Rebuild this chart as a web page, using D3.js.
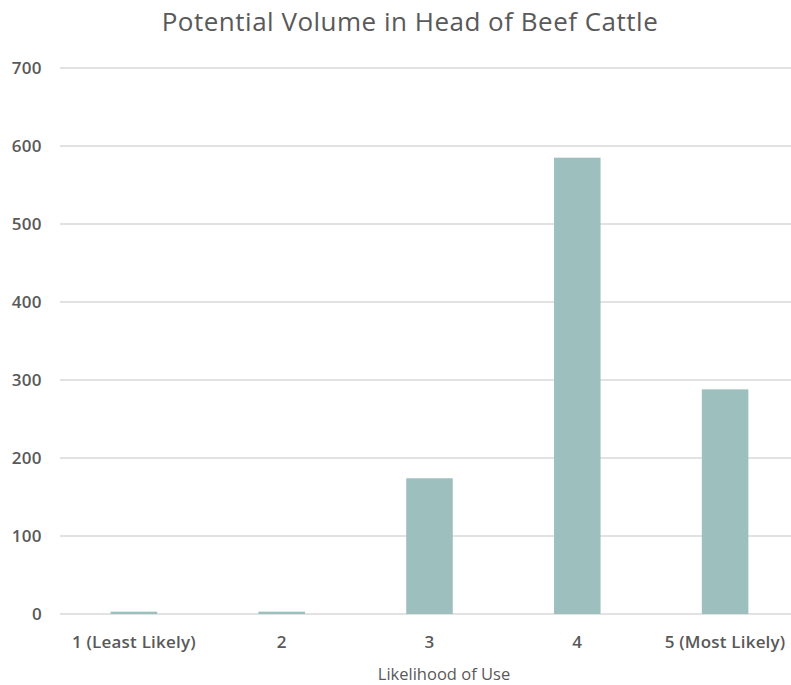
<!DOCTYPE html>
<html>
<head>
<meta charset="utf-8">
<script src="https://cdn.jsdelivr.net/npm/d3@7"></script>
<style>
  html, body { margin: 0; padding: 0; background: #fff; }
  svg { display: block; }
  text { font-family: "Open Sans", "Noto Sans", sans-serif; fill: #595959; }
</style>
</head>
<body>
<svg id="chart" width="791" height="685"></svg>
<script>
// Likelihood categories and head counts
const categories = ["1 (Least Likely)", "2", "3", "4", "5 (Most Likely)"];
const values = [3, 3, 174, 585, 288];
const yTicks = [0, 100, 200, 300, 400, 500, 600, 700];

const svg = d3.select("#chart");
const width = 791, height = 685;
const margin = { left: 60, right: -8, top: 68, bottom: 71 };

const x = d3.scaleBand()
  .domain(categories)
  .range([margin.left, width - margin.right])
  .paddingInner(0.685)
  .paddingOuter(0.3425);

const y = d3.scaleLinear()
  .domain([0, 700])
  .range([height - margin.bottom, margin.top]);

// Horizontal gridlines
svg.append("g")
  .selectAll("line")
  .data(yTicks)
  .join("line")
  .attr("x1", margin.left)
  .attr("x2", width)
  .attr("y1", d => y(d))
  .attr("y2", d => y(d))
  .attr("stroke", "#d9d9d9")
  .attr("stroke-width", 1.3);

// Y tick labels
svg.append("g")
  .selectAll("text")
  .data(yTicks)
  .join("text")
  .attr("x", 42)
  .attr("y", d => y(d))
  .attr("dy", "0.35em")
  .attr("text-anchor", "end")
  .attr("font-size", 17)
  .attr("font-weight", 600)
  .attr("letter-spacing", 0.4)
  .text(d => d);

// Bars
svg.append("g")
  .selectAll("rect")
  .data(values)
  .join("rect")
  .attr("x", (d, i) => x(categories[i]))
  .attr("width", x.bandwidth())
  .attr("y", d => y(d))
  .attr("height", d => y(0) - y(d))
  .attr("fill", "#9dbfbd");

// Category labels
svg.append("g")
  .selectAll("text")
  .data(categories)
  .join("text")
  .attr("x", d => x(d) + x.bandwidth() / 2)
  .attr("y", 648)
  .attr("text-anchor", "middle")
  .attr("font-size", 17)
  .attr("font-weight", 600)
  .attr("letter-spacing", 0.2)
  .text(d => d);

// Axis title
svg.append("text")
  .attr("x", 444)
  .attr("y", 680)
  .attr("text-anchor", "middle")
  .attr("font-size", 16.5)
  .text("Likelihood of Use");

// Chart title
svg.append("text")
  .attr("x", 410)
  .attr("y", 31)
  .attr("text-anchor", "middle")
  .attr("font-size", 26)
  .attr("letter-spacing", 0.5)
  .text("Potential Volume in Head of Beef Cattle");
</script>
</body>
</html>
